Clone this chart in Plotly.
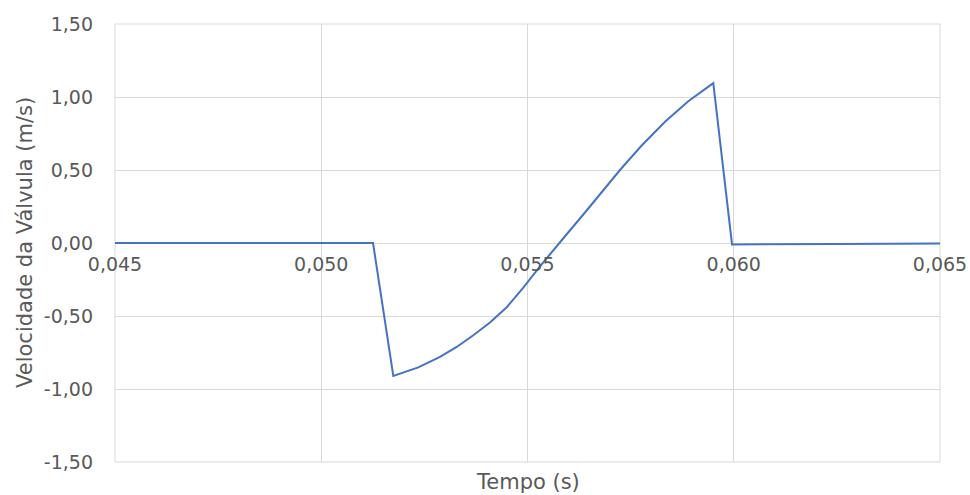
import plotly.graph_objects as go

# Valve velocity over time (s, m/s)
tempo = [0.045, 0.0500, 0.051255, 0.051747, 0.052353, 0.052879, 0.053284,
         0.053686, 0.054091, 0.054496, 0.054898, 0.055303, 0.055708,
         0.055950, 0.056394, 0.057242, 0.057768, 0.058333, 0.058898,
         0.059504, 0.059958, 0.0610, 0.0625, 0.065]
velocidade = [0.0, 0.0, 0.0, -0.910, -0.852, -0.780, -0.712,
              -0.632, -0.545, -0.440, -0.305, -0.160, -0.018,
              0.060, 0.209, 0.500, 0.668, 0.830, 0.971,
              1.095, -0.010, -0.010, -0.006, -0.003]

x_ticks = [0.045, 0.050, 0.055, 0.060, 0.065]
y_ticks = [-1.5, -1.0, -0.5, 0.0, 0.5, 1.0, 1.5]


def comma(v, nd):
    # decimal comma with a plain hyphen for negatives
    return f"{v:.{nd}f}".replace(".", ",")


x_labels = [comma(v, 3) for v in x_ticks]
y_labels = [comma(v, 2) for v in y_ticks]

FONT = "DejaVu Sans"
GREY = "#595959"
GRID = "#D9D9D9"

fig = go.Figure()
fig.add_trace(go.Scatter(
    x=tempo, y=velocidade, mode="lines",
    line=dict(color="#4472C4", width=2),
    hoverinfo="skip", showlegend=False,
))

fig.update_layout(
    width=970, height=495,
    margin=dict(l=115, r=30, t=24, b=33),
    paper_bgcolor="white", plot_bgcolor="white",
    font=dict(family=FONT, color=GREY, size=19),
    xaxis=dict(
        range=[0.045, 0.065], tickvals=x_ticks, ticktext=x_labels,
        showgrid=True, gridcolor=GRID, gridwidth=1,
        zeroline=False, showline=False, automargin=False,
        anchor="free", position=0.5, side="bottom",
        ticks="", ticklabelstandoff=8,
        tickfont=dict(family=FONT, size=19, color=GREY),
    ),
    yaxis=dict(
        range=[-1.5, 1.5], tickvals=y_ticks, ticktext=y_labels,
        showgrid=True, gridcolor=GRID, gridwidth=1,
        zeroline=False, showline=False, automargin=False,
        ticks="", ticklabelstandoff=21,
        tickfont=dict(family=FONT, size=19, color=GREY),
    ),
    shapes=[dict(
        type="rect", xref="paper", yref="paper", x0=0, y0=0, x1=1, y1=1,
        line=dict(color=GRID, width=1), layer="below",
    )],
    annotations=[
        dict(text="Tempo (s)", xref="paper", yref="paper", x=0.5, y=0,
             yshift=-20, xanchor="center", yanchor="middle", showarrow=False,
             font=dict(family=FONT, size=21, color=GREY)),
        dict(text="Velocidade da Válvula (m/s)", xref="paper", yref="paper",
             x=0, y=0.5, xshift=-90, textangle=-90, xanchor="center",
             yanchor="middle", showarrow=False,
             font=dict(family=FONT, size=21, color=GREY)),
    ],
)

fig.write_html("out.html")
